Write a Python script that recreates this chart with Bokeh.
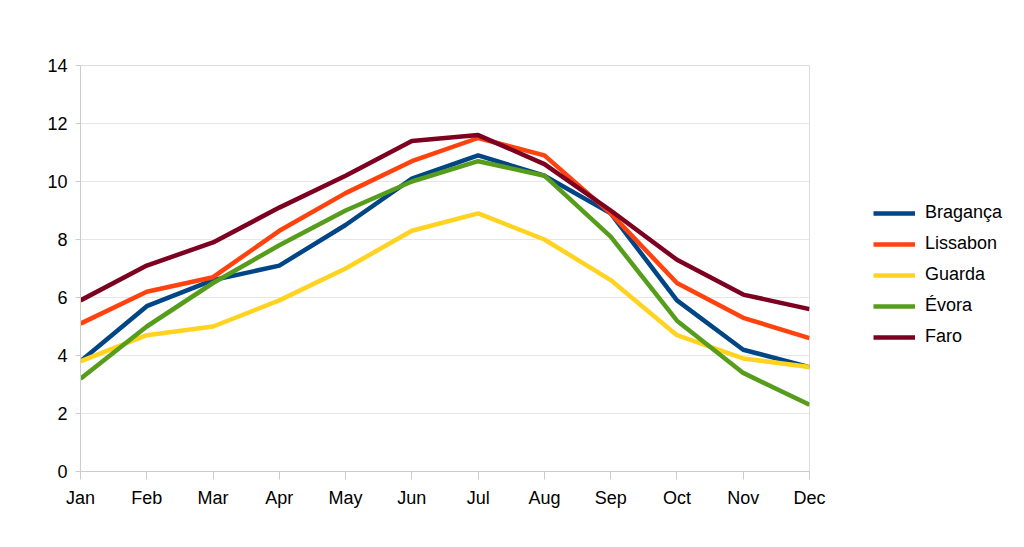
from bokeh.plotting import figure
from bokeh.models import Legend, LegendItem, Range1d, FixedTicker
from bokeh.embed import file_html
from bokeh.resources import INLINE

months = ["Jan", "Feb", "Mar", "Apr", "May", "Jun", "Jul", "Aug", "Sep", "Oct", "Nov", "Dec"]
braganca = [3.8, 5.7, 6.6, 7.1, 8.5, 10.1, 10.9, 10.2, 8.9, 5.9, 4.2, 3.6]
lissabon = [5.1, 6.2, 6.7, 8.3, 9.6, 10.7, 11.5, 10.9, 8.9, 6.5, 5.3, 4.6]
guarda = [3.8, 4.7, 5.0, 5.9, 7.0, 8.3, 8.9, 8.0, 6.6, 4.7, 3.9, 3.6]
evora = [3.2, 5.0, 6.5, 7.8, 9.0, 10.0, 10.7, 10.2, 8.1, 5.2, 3.4, 2.3]
faro = [5.9, 7.1, 7.9, 9.1, 10.2, 11.4, 11.6, 10.6, 9.0, 7.3, 6.1, 5.6]
series_names = ["Bragança", "Lissabon", "Guarda", "Évora", "Faro"]
colors = ["#004586", "#ff420e", "#ffd320", "#579d1c", "#7e0021"]
y_ticks = [0, 2, 4, 6, 8, 10, 12, 14]

xs = list(range(len(months)))

p = figure(width=1008, height=531, output_backend="svg", toolbar_location=None,
           x_range=Range1d(0, 11), y_range=Range1d(0, 14),
           frame_width=729, frame_height=406,
           min_border_left=80, min_border_right=199, min_border_top=65, min_border_bottom=60)
p.outline_line_color = "#dddddd"
p.background_fill_color = "white"
p.border_fill_color = "white"

font = "Liberation Sans"
p.xaxis.ticker = FixedTicker(ticks=xs)
p.xaxis.major_label_overrides = {i: m for i, m in enumerate(months)}
p.yaxis.ticker = FixedTicker(ticks=y_ticks)
for ax in (p.xaxis, p.yaxis):
    ax.axis_line_color = "#cccccc"
    ax.major_tick_line_color = "#cccccc"
    ax.minor_tick_line_color = None
    ax.major_label_text_font = font
    ax.major_label_text_font_size = "18px"
    ax.major_label_text_color = "#000000"
p.xaxis.major_tick_out = 8
p.xaxis.major_tick_in = 0
p.yaxis.major_tick_out = 5
p.yaxis.major_tick_in = 0
p.xaxis.major_label_standoff = 8
p.yaxis.major_label_standoff = 8
p.xgrid.grid_line_color = None
p.ygrid.grid_line_color = "#e6e6e6"

items = []
for name, data, c in zip(series_names, [braganca, lissabon, guarda, evora, faro], colors):
    r = p.line(xs, data, line_color=c, line_width=4.5, line_join="round")
    items.append(LegendItem(label=name, renderers=[r]))

legend = Legend(items=items, location=(64, 124), border_line_color=None,
                background_fill_alpha=0, label_text_font=font, label_text_font_size="18px",
                label_text_color="#000000",
                glyph_width=42, glyph_height=20, spacing=10, label_standoff=10, padding=0, margin=0)
p.add_layout(legend, "right")

open("out.html", "w").write(file_html(p, INLINE))
